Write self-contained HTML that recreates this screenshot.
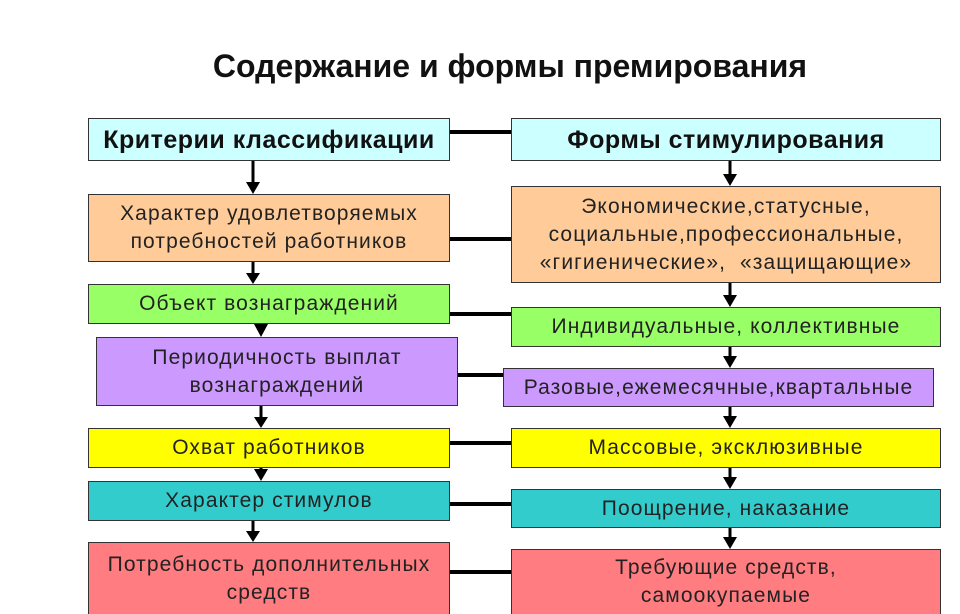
<!DOCTYPE html>
<html style="overflow:hidden;height:614px"><head><meta charset="utf-8"><style>
body{margin:0;width:960px;height:614px;background:#fff;position:relative;overflow:hidden;font-family:"Liberation Sans","Noto Sans CJK SC",sans-serif;}
.b{position:absolute;border:1.5px solid #333;box-sizing:border-box;display:flex;align-items:center;justify-content:center;text-align:center;font-size:21px;letter-spacing:1.1px;line-height:28px;color:#222;white-space:nowrap}
.h{font-weight:bold;font-size:25px;letter-spacing:0.5px;color:#111}
svg{position:absolute;left:0;top:0}
</style></head><body>
<div style="position:absolute;left:0;width:1020px;top:48px;text-align:center;font-weight:bold;font-size:32px;color:#111">Содержание и формы премирования</div>
<svg width="960" height="614">
<g stroke="#000" stroke-width="4">
<line x1="450" y1="132" x2="511" y2="132"/>
<line x1="450" y1="239" x2="511" y2="239"/>
<line x1="450" y1="314" x2="511" y2="314"/>
<line x1="458" y1="375" x2="503" y2="375"/>
<line x1="450" y1="443" x2="511" y2="443"/>
<line x1="450" y1="504" x2="511" y2="504"/>
<line x1="450" y1="572" x2="511" y2="572"/>
</g>
<g stroke="#000" stroke-width="3" fill="#000">
<line x1="253" y1="161" x2="253" y2="184"/><polygon points="246,182 260,182 253,194" stroke="none"/>
<line x1="253" y1="262" x2="253" y2="275"/><polygon points="246,273 260,273 253,284" stroke="none"/>
<line x1="261" y1="324" x2="261" y2="328"/><polygon points="254,324 268,324 261,337" stroke="none"/>
<line x1="261" y1="406" x2="261" y2="419"/><polygon points="254,417 268,417 261,428" stroke="none"/>
<line x1="261" y1="468" x2="261" y2="472"/><polygon points="254,469 268,469 261,481" stroke="none"/>
<line x1="253" y1="521" x2="253" y2="533"/><polygon points="246,531 260,531 253,542" stroke="none"/>
<line x1="261" y1="611" x2="261" y2="614"/>
<line x1="730" y1="161" x2="730" y2="176"/><polygon points="723,174 737,174 730,186" stroke="none"/>
<line x1="730" y1="283" x2="730" y2="297"/><polygon points="723,295 737,295 730,307" stroke="none"/>
<line x1="730" y1="347" x2="730" y2="358"/><polygon points="723,356 737,356 730,368" stroke="none"/>
<line x1="730" y1="407" x2="730" y2="418"/><polygon points="723,416 737,416 730,428" stroke="none"/>
<line x1="730" y1="468" x2="730" y2="479"/><polygon points="723,477 737,477 730,489" stroke="none"/>
<line x1="730" y1="528" x2="730" y2="539"/><polygon points="723,537 737,537 730,549" stroke="none"/>
</g>
</svg>
<div class="b h" style="left:88px;top:118px;width:362px;height:43px;background:#ccffff">Критерии классификации</div>
<div class="b" style="left:88px;top:194px;width:362px;height:68px;background:#ffcc99">Характер удовлетворяемых<br>потребностей работников</div>
<div class="b" style="left:88px;top:284px;width:362px;height:40px;background:#99ff66">Объект вознаграждений</div>
<div class="b" style="left:96px;top:337px;width:362px;height:69px;background:#cc99ff">Периодичность выплат<br>вознаграждений</div>
<div class="b" style="left:88px;top:428px;width:362px;height:40px;background:#ffff00">Охват работников</div>
<div class="b" style="left:88px;top:481px;width:362px;height:40px;background:#33cccc">Характер стимулов</div>
<div class="b" style="left:88px;top:542px;width:362px;height:72px;background:#ff7c80;border-bottom:none">Потребность дополнительных<br>средств</div>
<div class="b h" style="left:511px;top:118px;width:430px;height:43px;background:#ccffff">Формы стимулирования</div>
<div class="b" style="left:511px;top:186px;width:430px;height:97px;background:#ffcc99">Экономические,статусные,<br>социальные,профессиональные,<br>«гигиенические»,&nbsp;&nbsp;«защищающие»</div>
<div class="b" style="left:511px;top:307px;width:430px;height:40px;background:#99ff66">Индивидуальные, коллективные</div>
<div class="b" style="left:503px;top:368px;width:431px;height:39px;background:#cc99ff">Разовые,ежемесячные,квартальные</div>
<div class="b" style="left:511px;top:428px;width:430px;height:40px;background:#ffff00">Массовые, эксклюзивные</div>
<div class="b" style="left:511px;top:489px;width:430px;height:39px;background:#33cccc">Поощрение, наказание</div>
<div class="b" style="left:511px;top:549px;width:430px;height:65px;background:#ff7c80;border-bottom:none">Требующие средств,<br>самоокупаемые</div>
</body></html>
